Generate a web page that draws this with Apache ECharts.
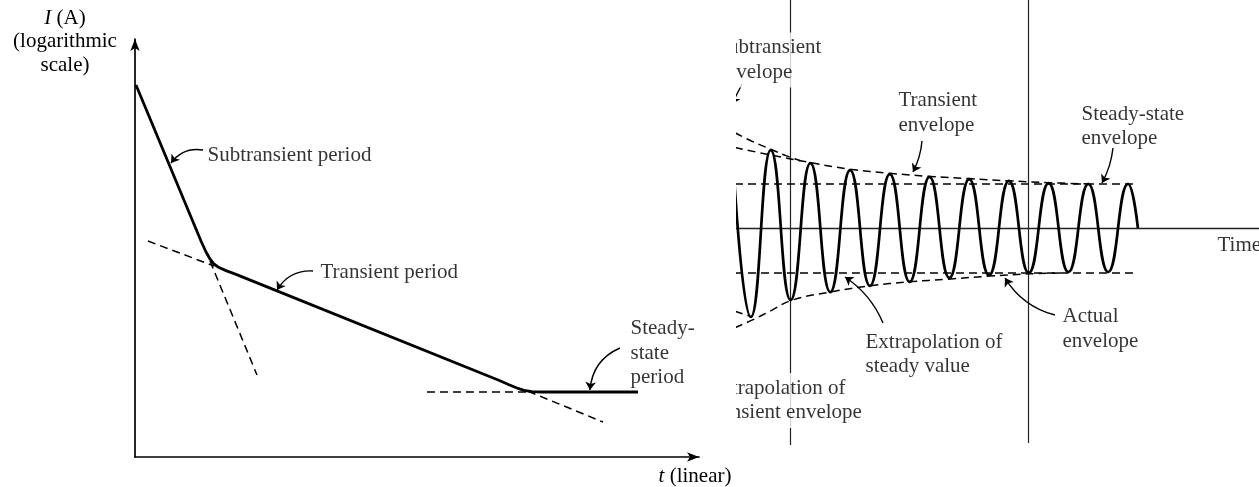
<!DOCTYPE html>
<html><head><meta charset="utf-8">
<script src="https://cdn.jsdelivr.net/npm/echarts@6/dist/echarts.min.js"></script>
<style>html,body{margin:0;padding:0;background:#fff}#c{width:1259px;height:487px}</style>
</head><body><div id="c"></div>
<script>
// ===== LEFT PANEL: current vs time (x: linear time, arbitrary 0-100; y: log current, arbitrary 0-100) =====
const currentT      = [0.18, 11.70, 12.59, 13.30, 14.01, 14.89, 16.13, 17.91, 64.72, 66.31, 67.73, 68.97, 70.39, 72.16, 89.18];
const currentLogI   = [89.00, 51.67, 49.04, 47.37, 46.17, 45.33, 44.59, 43.68, 18.23, 17.30, 16.51, 15.93, 15.62, 15.55, 15.55];
const subExtT       = [13.30, 21.63];  const subExtI       = [46.89, 19.62];
const transBackT    = [2.30, 14.01];   const transBackI    = [51.67, 45.69];
const transFwdT     = [69.68, 82.98];  const transFwdI     = [15.74, 8.37];
const steadyExtT    = [51.77, 70.39];  const steadyExtI    = [15.55, 15.55];
const leftLabels    = ['Subtransient period', 'Transient period', 'Steady-\nstate\nperiod'];
const leftLabelPos  = [[12.77, 72.25], [32.80, 44.26], [87.77, 24.88]];
// arrows: [from, to, curveness]
const leftArrows    = [[[12.06, 73.44], [6.38, 70.33], -0.3], [[31.56, 44.50], [25.18, 39.95], -0.3], [[85.99, 26.08], [80.67, 16.03], -0.3]];

// ===== RIGHT PANEL: waveform (x: time in cycles, y: amplitude in steady-state units) =====
// crests and troughs of the oscillation, then the final return to the time axis
const waveT = [0, 0.5, 1, 1.5, 2, 2.5, 3, 3.5, 4, 4.5, 5, 5.5, 6, 6.5, 7, 7.5, 8, 8.5, 9, 9.5, 10, 10.25];
const waveA = [2.30, -2.00, 1.75, -1.62, 1.46, -1.44, 1.30, -1.30, 1.21, -1.21, 1.15, -1.12, 1.10, -1.06, 1.06, -1.01, 1.01, -0.99, 0.99, -0.99, 0.99, 0];
const transEnvTopT = [0.1, 1.0, 2.0, 3.0, 4.0, 5.0, 6.0, 7.0, 8.0, 9.0];
const transEnvTopA = [1.81, 1.64, 1.47, 1.32, 1.23, 1.16, 1.11, 1.06, 1.02, 0.99];
const subEnvTopT   = [0.1, 0.5, 1.0, 1.4, 1.75];
const subEnvTopA   = [2.14, 1.96, 1.77, 1.62, 1.51];
const transEnvBotT = [0.1, 0.53, 0.98, 1.54, 2.49, 3.5, 4.48, 5.47, 6.52, 7.5, 8.29];
const transEnvBotA = [-2.24, -2.07, -1.87, -1.62, -1.44, -1.30, -1.21, -1.15, -1.08, -1.03, -1.01];
const subEnvBotT   = [0.1, 0.53];      const subEnvBotA   = [-1.87, -2.00];
const steadyTopT   = [0.1, 10.23];     const steadyTopA   = [0.99, 0.99];
const steadyBotT   = [0.1, 10.23];     const steadyBotA   = [-1.01, -1.01];
const markerLines  = [[[1.5, 5.124], [1.5, -4.876]], [[7.5, 5.124], [7.5, -4.83]]];
const rightLabels  = ['Subtransient\nenvelope', 'Transient\nenvelope', 'Steady-state\nenvelope', 'Extrapolation of\nsteady value',
                      'Actual\nenvelope', 'Extrapolation of\ntransient envelope', 'Time'];
const rightLabelPos = [[-0.43, 3.775], [4.207, 2.584], [8.816, 2.281], [3.375, -2.843], [8.338, -2.27], [-0.63, -3.876], [12.242, -0.382]];
const rightLabelBg  = [true, false, false, false, false, true, false];
const rightArrows   = [[[0.277, 3.236], [0.025, 2.787], 0], [[4.811, 1.955], [4.584, 1.258], 0.1], [[9.622, 1.798], [9.345, 1.011], 0.1],
                       [[3.829, -2.135], [2.872, -1.101], -0.15], [[8.161, -1.955], [6.902, -1.124], 0.2]];

// ===== build =====
const INK = '#000';
const FONT = '"Liberation Serif", "Times New Roman", serif';
const zip = (a, b) => a.map((v, i) => [v, b[i]]);

function curve(t, v, gi, width, dashed, smooth, mono) {
  const s = { type: 'line', xAxisIndex: gi, yAxisIndex: gi, data: zip(t, v), symbol: 'none', smooth: smooth || false,
    lineStyle: { color: INK, width: width, type: dashed ? [8, 5] : 'solid' }, silent: true, animation: false, z: 3 };
  if (mono) s.smoothMonotone = mono;
  return s;
}
function arrowSeries(list, gi) {
  return { type: 'lines', coordinateSystem: 'cartesian2d', xAxisIndex: gi, yAxisIndex: gi, symbol: ['none', 'arrow'], symbolSize: 8,
    lineStyle: { color: INK, width: 1.4, opacity: 1 }, silent: true, animation: false, z: 4,
    data: list.map(a => ({ coords: [a[0], a[1]], lineStyle: { curveness: a[2] } })) };
}
function labelSeries(names, pos, gi, bg) {
  return { type: 'scatter', xAxisIndex: gi, yAxisIndex: gi, symbolSize: 1, itemStyle: { color: 'rgba(0,0,0,0)' }, silent: true, animation: false, clip: false, z: 5,
    label: { show: true, position: 'right', distance: 0, formatter: '{b}', color: INK, fontFamily: FONT, fontSize: 21, lineHeight: 24.5, align: 'left', verticalAlign: 'middle' },
    data: names.map((n, i) => ({ name: n, value: pos[i], label: (bg && bg[i]) ? { backgroundColor: '#fff', padding: [3, 2, 3, 2] } : {} })) };
}
const hiddenAxis = { axisTick: { show: false }, axisLabel: { show: false }, splitLine: { show: false } };

const series = [
  curve(currentT, currentLogI, 0, 2.8, false, false),
  curve(subExtT, subExtI, 0, 1.5, true),
  curve(transBackT, transBackI, 0, 1.5, true),
  curve(transFwdT, transFwdI, 0, 1.5, true),
  curve(steadyExtT, steadyExtI, 0, 1.5, true),
  arrowSeries(leftArrows, 0),
  labelSeries(leftLabels, leftLabelPos, 0),
  curve(waveT, waveA, 1, 2.7, false, 0.5, 'x'),
  curve(transEnvTopT, transEnvTopA, 1, 1.5, true, 0.4),
  curve(subEnvTopT, subEnvTopA, 1, 1.5, true, 0.4),
  curve(transEnvBotT, transEnvBotA, 1, 1.5, true, 0.4),
  curve(subEnvBotT, subEnvBotA, 1, 1.5, true),
  curve(steadyTopT, steadyTopA, 1, 1.5, true),
  curve(steadyBotT, steadyBotA, 1, 1.5, true),
  { type: 'lines', coordinateSystem: 'cartesian2d', xAxisIndex: 1, yAxisIndex: 1, symbol: 'none', silent: true, animation: false, z: 2,
    lineStyle: { color: '#222', width: 1.2, opacity: 1 }, data: markerLines.map(c => ({ coords: c })) },
  arrowSeries(rightArrows, 1),
  labelSeries(rightLabels, rightLabelPos, 1, rightLabelBg)
];

const chart = echarts.init(document.getElementById('c'), null, { renderer: 'canvas' });
chart.setOption({
  animation: false,
  backgroundColor: '#fff',
  grid: [
    { left: 135, right: 560, top: 39, bottom: 30 },
    { left: 700, right: 0, top: 0, bottom: 0 }
  ],
  xAxis: [
    Object.assign({ gridIndex: 0, type: 'value', min: 0, max: 100,
      axisLine: { show: true, onZero: false, symbol: ['none', 'arrow'], symbolSize: [7, 12], lineStyle: { color: INK, width: 1.7 } } }, hiddenAxis),
    Object.assign({ gridIndex: 1, type: 'value', min: -0.781, max: 13.30,
      axisLine: { show: true, onZero: true, lineStyle: { color: '#222', width: 1.4 } } }, hiddenAxis)
  ],
  yAxis: [
    Object.assign({ gridIndex: 0, type: 'value', min: 0, max: 100,
      axisLine: { show: true, onZero: false, symbol: ['none', 'arrow'], symbolSize: [7, 12], lineStyle: { color: INK, width: 1.7 } } }, hiddenAxis),
    Object.assign({ gridIndex: 1, type: 'value', min: -5.82, max: 5.124, axisLine: { show: false } }, hiddenAxis)
  ],
  graphic: [
    { type: 'rect', shape: { x: 699, y: 0, width: 37, height: 450 }, style: { fill: '#fff' }, z: 100, silent: true },
    { type: 'text', x: 65, y: 41.5, z: 100, silent: true,
      style: { text: '{i|I} (A)\n(logarithmic\nscale)', fontFamily: FONT, fontSize: 21, fill: INK, align: 'center', verticalAlign: 'middle', lineHeight: 23.5,
        rich: { i: { fontStyle: 'italic', fontFamily: FONT, fontSize: 21, fill: INK, lineHeight: 23.5 } } } },
    { type: 'text', x: 695, y: 476, z: 100, silent: true,
      style: { text: '{i|t} (linear)', fontFamily: FONT, fontSize: 21, fill: INK, align: 'center', verticalAlign: 'middle',
        rich: { i: { fontStyle: 'italic', fontFamily: FONT, fontSize: 21, fill: INK } } } }
  ],
  series: series
});
</script>
</body></html>
